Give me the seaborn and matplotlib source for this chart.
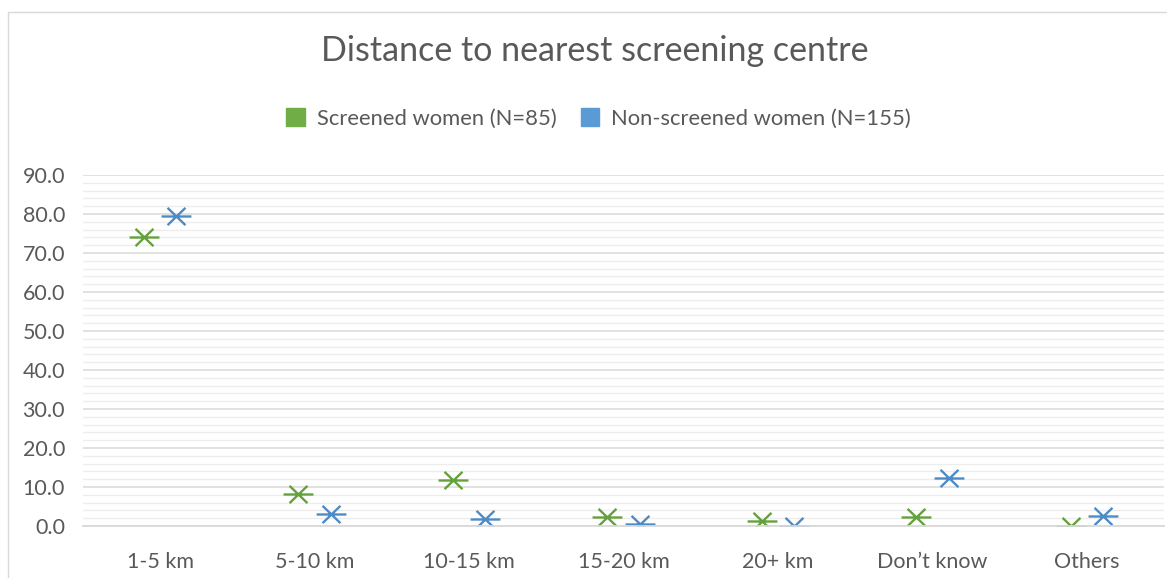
import numpy as np
import pandas as pd
import matplotlib
matplotlib.use("Agg")
import matplotlib.pyplot as plt
from matplotlib.path import Path
from matplotlib.patches import Patch
from matplotlib.lines import Line2D
from matplotlib.ticker import MultipleLocator
import seaborn as sns

# Share of women (%) by distance to the nearest screening centre
categories = ["1-5 km", "5-10 km", "10-15 km", "15-20 km", "20+ km", "Don\u2019t know", "Others"]
screened = [74.1, 8.2, 11.8, 2.4, 1.2, 2.4, 0.0]        # N=85
non_screened = [79.4, 3.2, 1.9, 0.6, 0.0, 12.3, 2.6]    # N=155
series_names = ["Screened women (N=85)", "Non-screened women (N=155)"]
series_colors = ["#70AD47", "#5B9BD5"]
marker_colors = ["#64A13D", "#4E8BC6"]
y_ticks = [0, 10, 20, 30, 40, 50, 60, 70, 80, 90]

df = pd.DataFrame({
    "Distance": categories * 2,
    "Percent": screened + non_screened,
    "Group": [series_names[0]] * len(categories) + [series_names[1]] * len(categories),
})

# Asterisk-like marker: a horizontal bar crossed by an X
star = Path(
    [(-1.0, 0.0), (1.0, 0.0), (-0.6, -0.58), (0.6, 0.58), (-0.6, 0.58), (0.6, -0.58)],
    [Path.MOVETO, Path.LINETO, Path.MOVETO, Path.LINETO, Path.MOVETO, Path.LINETO],
)

sns.set_theme(style="white")
plt.rcParams["font.family"] = ["Lato", "DejaVu Sans"]
text_color = "#595959"

fig = plt.figure(figsize=(11.67, 5.78), dpi=100)
ax = fig.add_axes([0.0711, 0.09, 0.9263, 0.6072])

sns.pointplot(
    data=df, x="Distance", y="Percent", hue="Group",
    order=categories, hue_order=series_names,
    palette=dict(zip(series_names, marker_colors)),
    markers=[star, star], linestyles="none", dodge=0.21,
    errorbar=None, legend=False, ax=ax,
    markersize=21.5, markeredgewidth=1.7, markerfacecolor="none",
)

ax.set_xlim(-0.5, len(categories) - 0.5)
ax.set_ylim(0, 90)
ax.set_yticks(y_ticks)
ax.set_yticklabels([f"{v:.1f}" for v in y_ticks])
ax.yaxis.set_minor_locator(MultipleLocator(2))
ax.set_axisbelow(True)
ax.grid(axis="y", which="major", color="#D9D9D9", linewidth=1.1)
ax.grid(axis="y", which="minor", color="#EDEDED", linewidth=1.0)
ax.grid(axis="x", visible=False)
for side in ["top", "right", "left"]:
    ax.spines[side].set_visible(False)
ax.spines["bottom"].set_color("#D9D9D9")
ax.spines["bottom"].set_linewidth(1.3)
ax.set_xlabel("")
ax.set_ylabel("")
ax.tick_params(axis="both", which="both", length=0, labelsize=15.5, colors=text_color)
ax.tick_params(axis="x", pad=19)
ax.tick_params(axis="y", pad=13)

fig.text(0.51, 0.911, "Distance to nearest screening centre",
         ha="center", va="center", fontsize=24.5, color=text_color)

handles = [Patch(facecolor=c, edgecolor=c) for c in series_colors]
fig.legend(handles, series_names, loc="center", bbox_to_anchor=(0.513, 0.795),
           ncol=2, frameon=False, fontsize=15.8, labelcolor=text_color,
           handlelength=0.85, handleheight=0.85, handletextpad=0.55, columnspacing=1.1)

# Chart area border along the top and left edges
fig.add_artist(Line2D([8 / 1167, 8 / 1167], [0, 1 - 12 / 578], transform=fig.transFigure,
                      color="#D9D9D9", linewidth=1.0))
fig.add_artist(Line2D([8 / 1167, 1], [1 - 12 / 578, 1 - 12 / 578], transform=fig.transFigure,
                      color="#D9D9D9", linewidth=1.0))

fig.savefig("out.png", dpi=100, facecolor="white")
